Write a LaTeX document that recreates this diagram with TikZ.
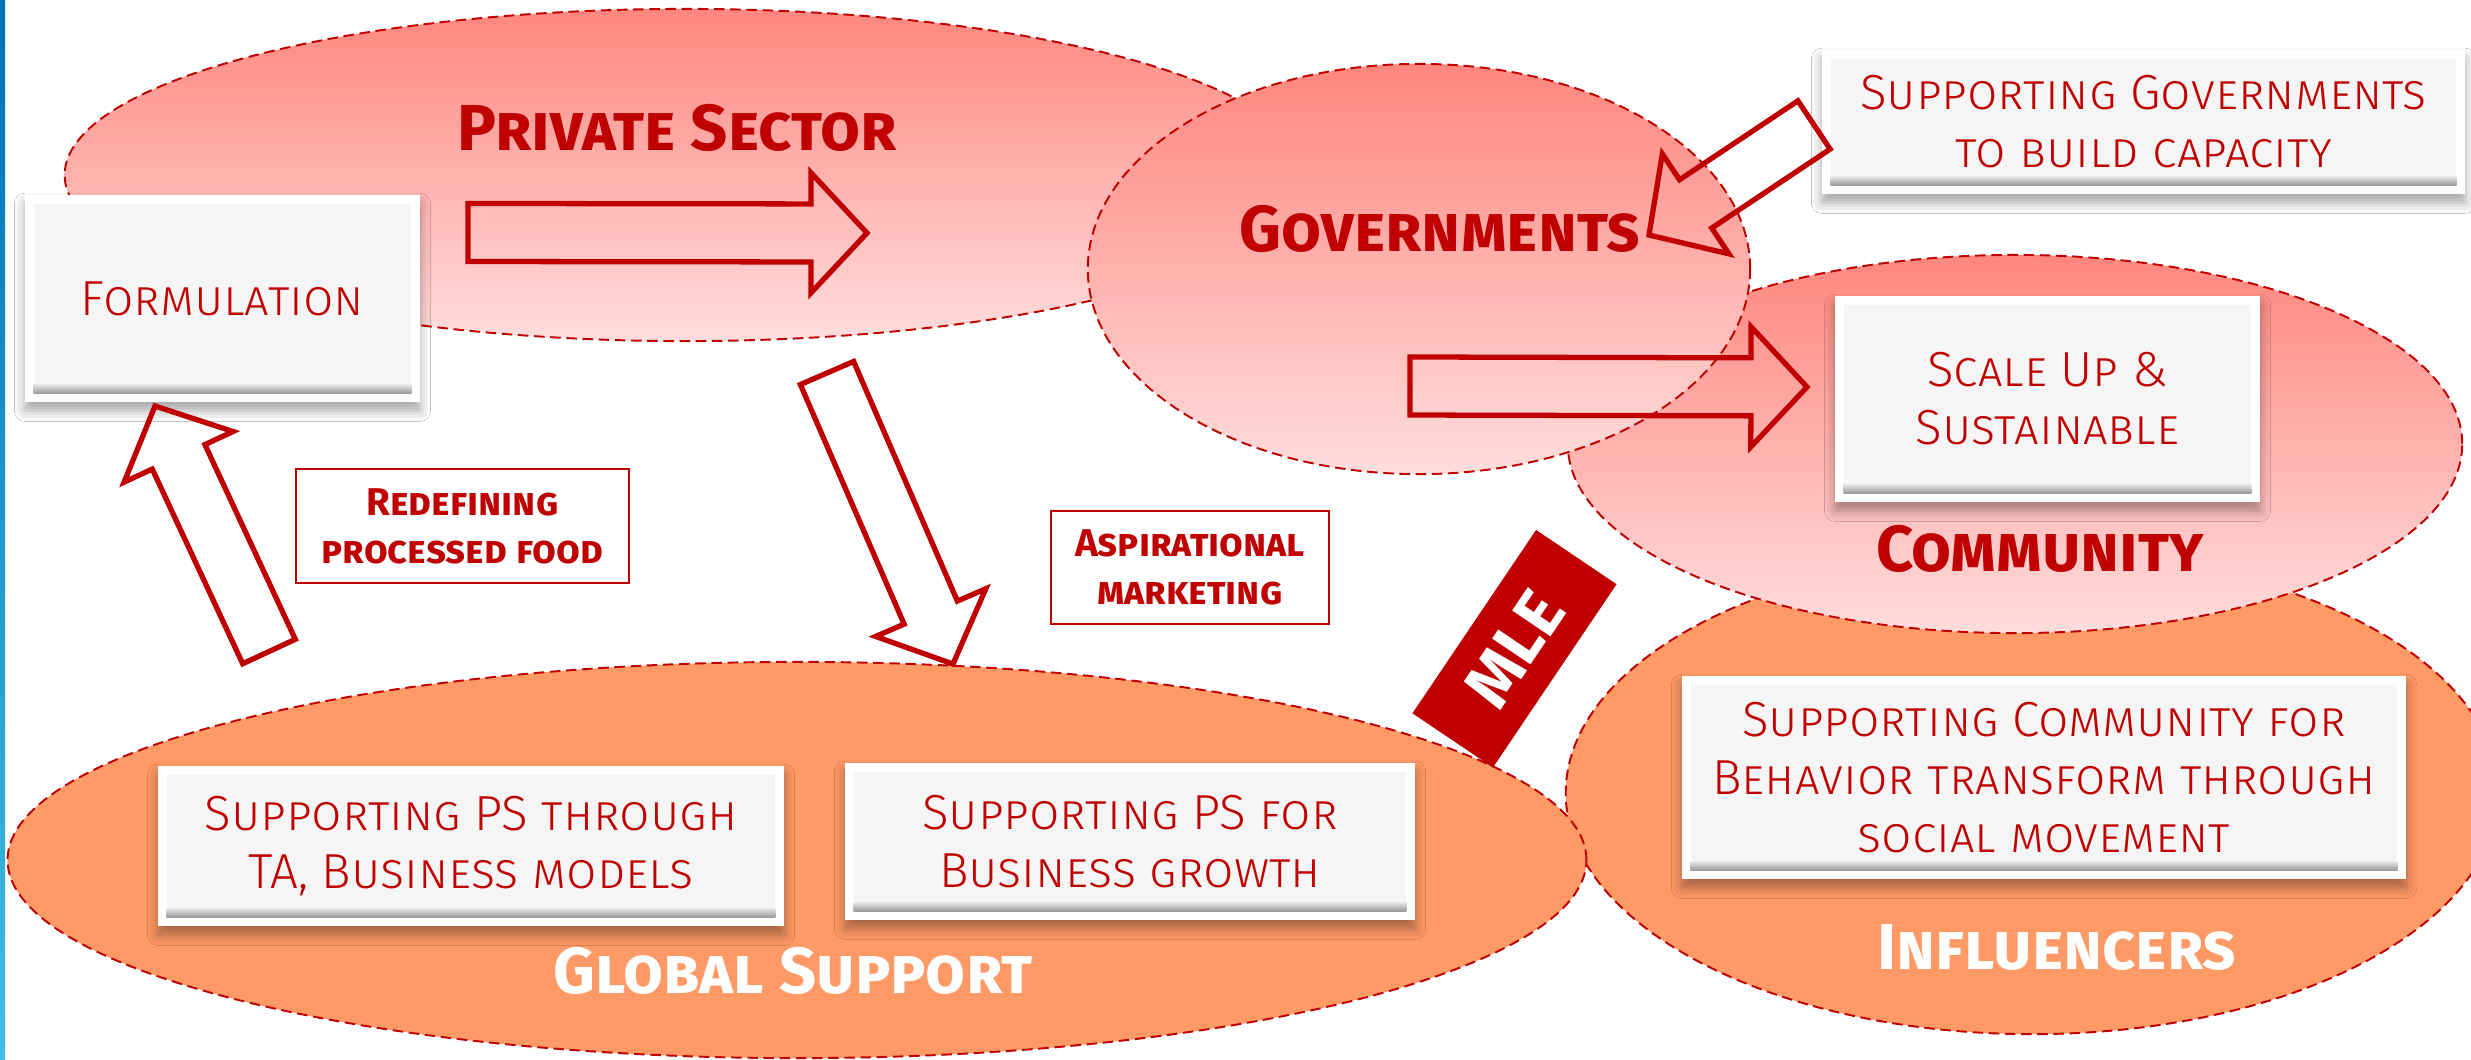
\documentclass[tikz,border=0pt]{standalone}
\usepackage{fontspec}
\setmainfont{Fira Sans}
\newfontfamily\boxfont{Fira Sans Light}
\usetikzlibrary{shapes.geometric, calc, shadows.blur}

\definecolor{darkred}{RGB}{192,0,0}
\definecolor{pinktop}{RGB}{255,134,126}
\definecolor{pinkbot}{RGB}{255,221,221}
\definecolor{orangefill}{RGB}{255,153,102}
\definecolor{boxgray}{RGB}{245,245,245}
\definecolor{bartop}{RGB}{0,112,183}
\definecolor{barbot}{RGB}{64,190,228}

% sizes of the hollow block arrows
\newcommand{\shaftw}{0.29cm}
\newcommand{\headw}{0.60cm}
\newcommand{\headlen}{0.56cm}

\tikzset{
  region/.style={ellipse, inner sep=0pt, draw=darkred, line width=0.55pt, dash pattern=on 3pt off 1.6pt},
  pinkregion/.style={region, top color=pinktop, bottom color=pinkbot},
  orangeregion/.style={region, fill=orangefill},
  heading/.style={anchor=base, text=darkred, font=\fontsize{18.5}{22}\selectfont\bfseries\scshape},
  bevelbox/.style={rectangle, inner sep=0pt, fill=white, align=center, text=darkred,
    font=\fontsize{14}{16.5}\selectfont\boxfont\scshape,
    blur shadow={shadow xshift=0pt, shadow yshift=-2.5pt, shadow blur radius=3pt, shadow opacity=35},
    path picture={
      \fill[boxgray] ([shift={(2.5pt,2.5pt)}]path picture bounding box.south west) rectangle ([shift={(-2.5pt,-2.5pt)}]path picture bounding box.north east);
      \shade[top color=black!10, bottom color=black!40] ([shift={(2.5pt,2.5pt)}]path picture bounding box.south west) rectangle ([shift={(-2.5pt,5pt)}]path picture bounding box.south east);
    }},
  tagbox/.style={rectangle, draw=darkred, line width=0.6pt, fill=white, align=center, text=darkred,
    font=\fontsize{11}{13.7}\selectfont\bfseries\scshape},
  mlebanner/.style={rectangle, fill=darkred, text=white, inner sep=0pt, minimum width=2.21cm, minimum height=0.97cm,
    font=\fontsize{19}{19}\selectfont\bfseries},
  blockarrow/.style={draw=darkred, line width=1.5pt, line join=miter},
}

% hollow block arrow from a tail coordinate to a tip coordinate
\newcommand{\blockarrow}[2]{%
  \path ($(#2)!\headlen!(#1)$) coordinate (#2-neck);
  \draw[blockarrow] ($(#1)!\shaftw!90:(#2)$) -- ($(#2-neck)!\shaftw!90:(#2)$)
    -- ($(#2-neck)!\headw!90:(#2)$) -- (#2) -- ($(#2-neck)!\headw!-90:(#2)$)
    -- ($(#2-neck)!\shaftw!-90:(#2)$) -- ($(#1)!\shaftw!-90:(#2)$) -- cycle;
}

\begin{document}
\begin{tikzpicture}[x=0.01cm, y=0.01cm]

    \fill[white] (0,0) rectangle (2471,1059);
    \useasboundingbox (0,0) rectangle (2471,1059);
    \shade[top color=bartop, bottom color=barbot] (0,0) rectangle (5,1059);

    % regions
    \node[orangeregion, minimum width=9.32cm, minimum height=4.82cm] (infl) at (2032,266) {};
    \node[orangeregion, minimum width=15.78cm, minimum height=3.96cm] (glob) at (797,199) {};
    \node[pinkregion, minimum width=12.4cm, minimum height=3.32cm] (priv) at (685,884) {};
    \node[pinkregion, minimum width=8.94cm, minimum height=3.78cm] (comm) at (2015,615) {};
    \node[pinkregion, minimum width=6.62cm, minimum height=4.10cm] (gov) at (1419,790) {};

    \node[heading] (privlabel) at (677,909) {Private Sector};
    \node[heading] (govlabel) at (1440,808) {Governments};
    \node[heading] (commlabel) at (2040,488) {Community};
    \node[heading, text=white] (globlabel) at (793,66) {Global Support};
    \node[heading, text=white] (infllabel) at (2057,90) {Influencers};

    % boxes
    \node[bevelbox, minimum width=3.95cm, minimum height=2.07cm] (form) at (222.5,760.5) {Formulation};
    \node[bevelbox, minimum width=6.43cm, minimum height=1.44cm] (supgov) at (2143.5,937) {Supporting Governments\\to build capacity};
    \node[bevelbox, minimum width=4.25cm, minimum height=2.06cm] (scale) at (2047.5,660) {Scale Up \&\\Sustainable};
    \node[bevelbox, minimum width=6.26cm, minimum height=1.60cm] (supta) at (471,213) {Supporting PS through\\TA, Business models};
    \node[bevelbox, minimum width=5.70cm, minimum height=1.57cm] (supgrowth) at (1130,217.5) {Supporting PS for\\Business growth};
    \node[bevelbox, minimum width=7.24cm, minimum height=2.03cm] (supcomm) at (2044,281.5) {Supporting Community for\\Behavior transform through\\social movement};

    % arrows
    \coordinate (ps-tail) at (468,826.5);
    \coordinate (ps-tip) at (867,826);
    \coordinate (gc-tail) at (1410,673);
    \coordinate (gc-tip) at (1807,672);
    \coordinate (sg-tail) at (1814,934);
    \coordinate (sg-tip) at (1649,824);
    \coordinate (down-tail) at (827,686);
    \coordinate (down-tip) at (953,395);
    \coordinate (up-tail) at (269,407.5);
    \coordinate (up-tip) at (155,653);

    \blockarrow{ps-tail}{ps-tip}
    \blockarrow{gc-tail}{gc-tip}
    \blockarrow{sg-tail}{sg-tip}
    \blockarrow{down-tail}{down-tip}
    \blockarrow{up-tail}{up-tip}

    \node[tagbox, minimum width=3.33cm, minimum height=1.14cm] (redef) at (462.5,533) {Redefining\\processed food};
    \node[tagbox, minimum width=2.78cm, minimum height=1.13cm] (aspir) at (1190,491.5) {Aspirational\\marketing};

    \node[mlebanner, rotate=56] (mle) at (1514.5,410.25) {MLE};
\end{tikzpicture}
\end{document}
